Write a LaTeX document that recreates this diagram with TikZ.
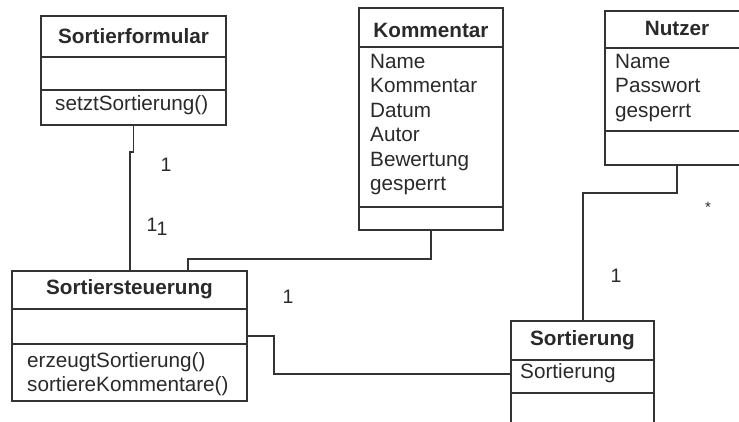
\documentclass[tikz,border=0pt]{standalone}
\usepackage{fontspec}
\setmainfont{Liberation Sans}
\definecolor{linegray}{HTML}{333333}
\definecolor{textgray}{HTML}{2A2A2A}
\begin{document}
\begin{tikzpicture}[x=1bp,y=-1bp,
  classbox/.style={draw=linegray, line width=1.4bp, inner sep=0pt, outer sep=0pt, anchor=north west},
  conn/.style={draw=linegray, line width=1.4bp},
  sep/.style={draw=linegray, line width=1.4bp},
  title/.style={font=\fontsize{20.7bp}{24.5bp}\selectfont\bfseries, text=textgray, inner sep=0pt, anchor=base},
  entry/.style={font=\fontsize{20.7bp}{24.5bp}\selectfont, text=textgray, inner sep=0pt, anchor=base west},
  mult/.style={font=\fontsize{19.5bp}{22bp}\selectfont, text=textgray, inner sep=0pt, anchor=base}]
\useasboundingbox (0,0) rectangle (739,421);
\fill[white] (0,0) rectangle (739,421);
\clip (0,0) rectangle (739,421);

% class Sortierformular
\node[classbox, minimum width=185bp, minimum height=109bp] (sf) at (41,16) {};
\draw[sep] (sf.west |- 0,57) -- (sf.east |- 0,57);
\draw[sep] (sf.west |- 0,90) -- (sf.east |- 0,90);
\node[title] (sf-t) at (133.5,43) {Sortierformular};
\node[entry] (sf-m1) at (55,110) {setztSortierung()};

% class Kommentar
\node[classbox, minimum width=144bp, minimum height=222bp] (km) at (359,8) {};
\draw[sep] (km.west |- 0,47) -- (km.east |- 0,47);
\draw[sep] (km.west |- 0,207) -- (km.east |- 0,207);
\node[title] (km-t) at (431,37) {Kommentar};
\foreach \txt [count=\i] in {Name,Kommentar,Datum,Autor,Bewertung,gesperrt}
  \node[entry] (km-a\i) at (370,{68+24.5*(\i-1)}) {\txt};

% class Nutzer
\node[classbox, minimum width=144bp, minimum height=154bp] (nu) at (605,11) {};
\draw[sep] (nu.west |- 0,48) -- (nu.east |- 0,48);
\draw[sep] (nu.west |- 0,131) -- (nu.east |- 0,131);
\node[title] (nu-t) at (677,35) {Nutzer};
\foreach \txt [count=\i] in {Name,Passwort,gesperrt}
  \node[entry] (nu-a\i) at (615,{68+24.5*(\i-1)}) {\txt};

% class Sortiersteuerung
\node[classbox, minimum width=235bp, minimum height=130bp] (ss) at (12,271) {};
\draw[sep] (ss.west |- 0,309) -- (ss.east |- 0,309);
\draw[sep] (ss.west |- 0,344) -- (ss.east |- 0,344);
\node[title] (ss-t) at (129.5,294) {Sortiersteuerung};
\node[entry] (ss-m1) at (27,367) {erzeugtSortierung()};
\node[entry] (ss-m2) at (27,391.5) {sortiereKommentare()};

% class Sortierung
\node[classbox, minimum width=143bp, minimum height=106bp] (so) at (511,321) {};
\draw[sep] (so.west |- 0,360) -- (so.east |- 0,360);
\draw[sep] (so.west |- 0,393) -- (so.east |- 0,393);
\node[title] (so-t) at (582.5,345) {Sortierung};
\node[entry] (so-a1) at (520,378) {Sortierung};

% associations
\coordinate (sfjog) at (130,152);
\draw[conn] (sf.south) -- (sf.south |- sfjog) -- (sfjog) -- (sfjog |- ss.north);
\coordinate (kmbend) at (188,259);
\draw[conn] (km.south) -- (km.south |- kmbend) -- (kmbend) -- (kmbend |- ss.north);
\coordinate (nubend) at (583,193);
\draw[conn] (nu.south) -- (nu.south |- nubend) -- (nubend) -- (nubend |- so.north);
\coordinate (ssbend) at (274,0);
\draw[conn] (ss.east) -- (ssbend |- ss.east) -- (ssbend |- so.west) -- (so.west);

% multiplicities
\node[mult] (m1) at (166,171) {1};
\node[mult] (m2) at (152,231) {1};
\node[mult] (m3) at (162,235) {1};
\node[mult] (m4) at (288,303) {1};
\node[mult] (m5) at (616,282) {1};
\node[mult, font=\fontsize{15bp}{18bp}\selectfont] (m6) at (708,212) {*};
\end{tikzpicture}
\end{document}
